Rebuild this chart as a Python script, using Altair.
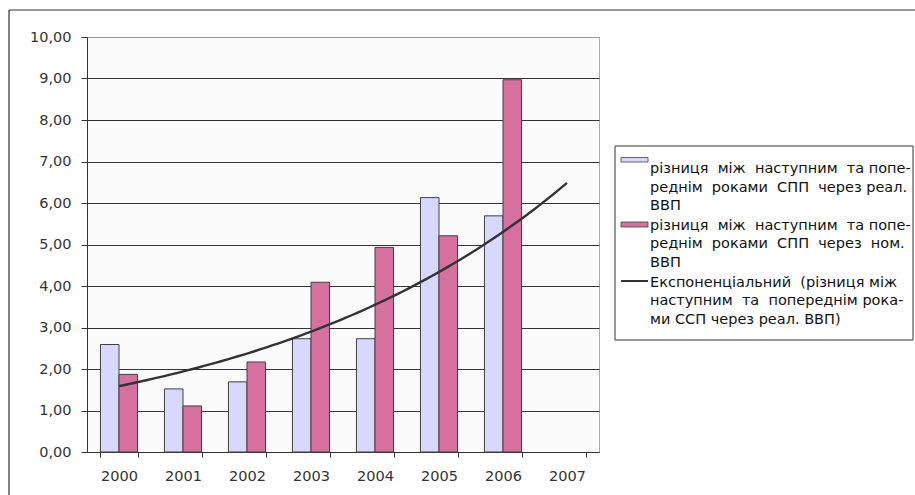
import altair as alt
import numpy as np
import pandas as pd

# Categories and the two bar series
years = ["2000", "2001", "2002", "2003", "2004", "2005", "2006", "2007"]
real_gdp = [2.59, 1.52, 1.69, 2.73, 2.73, 6.13, 5.69]      # через реал. ВВП
nominal_gdp = [1.87, 1.11, 2.17, 4.09, 4.93, 5.21, 8.97]   # через ном. ВВП

s_real = "різниця між наступним та попереднім роками СПП через реал. ВВП"
s_nom = "різниця між наступним та попереднім роками СПП через ном. ВВП"


def justify(words, gaps):
    """Join words with the given number of non-breaking spaces per gap."""
    out = words[0]
    for w, g in zip(words[1:], gaps):
        out += "\u00a0" * g + w
    return out


legend_real = [
    justify(["різниця", "між", "наступним", "та", "попе-"], [2, 2, 2, 1]),
    justify(["реднім", "роками", "СПП", "через", "реал."], [2, 2, 2, 1]),
    "ВВП",
]
legend_nom = [
    justify(["різниця", "між", "наступним", "та", "попе-"], [2, 2, 2, 1]),
    justify(["реднім", "роками", "СПП", "через", "ном."], [2, 2, 2, 2]),
    "ВВП",
]
legend_trend = [
    justify(["Експоненціальний", "(різниця", "між"], [2, 1]),
    justify(["наступним", "та", "попереднім", "рока-"], [2, 2, 1]),
    "ми ССП через реал. ВВП)",
]

FONT = "DejaVu Sans"
W, H = 512, 415

bars_df = pd.DataFrame({
    "year": years[:len(real_gdp)] * 2,
    "series": [s_real] * len(real_gdp) + [s_nom] * len(nominal_gdp),
    "value": real_gdp + nominal_gdp,
})

# Exponential trendline (least squares on ln y), extended one period forward
idx = np.arange(1, len(real_gdp) + 1)
b, ln_a = np.polyfit(idx, np.log(real_gdp), 1)
t = np.linspace(1, len(years), 80)
trend_df = pd.DataFrame({"pos": t - 0.5, "value": np.exp(ln_a + b * t)})

y_scale = alt.Scale(domain=[0, 10])

bars = alt.Chart(bars_df).mark_bar(stroke="#404040", strokeWidth=1).encode(
    x=alt.X("year:N", sort=years,
            scale=alt.Scale(domain=years, paddingInner=0.42, paddingOuter=0.21),
            axis=alt.Axis(title=None, labelAngle=0, tickBand="extent", domainColor="#333333",
                          tickColor="#333333", tickSize=5, labelPadding=12,
                          labelFont=FONT, labelFontSize=14.5, labelColor="#333333")),
    xOffset=alt.XOffset("series:N", sort=[s_real, s_nom],
                        scale=alt.Scale(paddingInner=0, paddingOuter=0)),
    y=alt.Y("value:Q", scale=y_scale,
            axis=alt.Axis(title=None, values=list(range(11)),
                          labelExpr="replace(format(datum.value, '.2f'), '.', ',')",
                          labelFont=FONT, labelFontSize=14.5, labelColor="#333333",
                          labelPadding=10, tickSize=6, tickColor="#333333",
                          domainColor="#333333",
                          gridColor={"condition": {"test": "datum.value == 10", "value": "#999999"},
                                     "value": "#333333"})),
    color=alt.Color("series:N", sort=[s_real, s_nom],
                    scale=alt.Scale(domain=[s_real, s_nom], range=["#D8D8FF", "#D6709F"]),
                    legend=None),
)

trend = alt.Chart(trend_df).mark_line(color="#333333", strokeWidth=2.4).encode(
    x=alt.X("pos:Q", scale=alt.Scale(domain=[0, len(years)], nice=False, zero=False), axis=None),
    y=alt.Y("value:Q", scale=y_scale),
)

one = pd.DataFrame({"k": [0]})
ox, oy = 87, 37  # plot origin inside the page

def px(x):
    return alt.value(x - ox)

def py(y):
    return alt.value(y - oy)

# Outer chart frame (left and top edges)
frame_top = alt.Chart(one).mark_rule(color="#333333", strokeWidth=1.2).encode(
    x=px(9), x2=px(915), y=py(10))
frame_left = alt.Chart(one).mark_rule(color="#333333", strokeWidth=1.2).encode(
    x=px(9), y=py(10), y2=py(495))

# Legend
legend_box = alt.Chart(one).mark_rect(fill="white", stroke="#333333", strokeWidth=1).encode(
    x=px(615), x2=px(913), y=py(146), y2=py(340))
sw_real = alt.Chart(one).mark_rect(fill="#D8D8FF", stroke="#404040", strokeWidth=0.8).encode(
    x=px(621), x2=px(648), y=py(157.5), y2=py(162))
sw_nom = alt.Chart(one).mark_rect(fill="#D6709F", stroke="#404040", strokeWidth=0.8).encode(
    x=px(621), x2=px(648), y=py(222), y2=py(227))
sw_trend = alt.Chart(one).mark_rule(color="#333333", strokeWidth=2).encode(
    x=px(621), x2=px(648), y=py(281))

def legend_text(lines, baseline_y):
    return alt.Chart(one).mark_text(
        align="left", baseline="alphabetic", font=FONT, fontSize=14.5,
        lineHeight=18.6, color="#111111").encode(
        x=px(650), y=py(baseline_y), text=alt.value(lines))

chart = alt.layer(
    frame_top, frame_left, bars, trend,
    legend_box, sw_real, sw_nom, sw_trend,
    legend_text(legend_real, 173.3),
    legend_text(legend_nom, 229.8),
    legend_text(legend_trend, 286.5),
).resolve_scale(x="independent").properties(
    width=W, height=H,
    autosize=alt.AutoSizeParams(type="none"),
    padding={"left": ox, "top": oy, "right": 915 - ox - W, "bottom": 495 - oy - H},
    background="white",
).configure_view(fill="#FBFBFB", stroke="#AAAAAA", strokeWidth=1)

chart.save("out.html", embed_options={"renderer": "svg", "actions": False})
